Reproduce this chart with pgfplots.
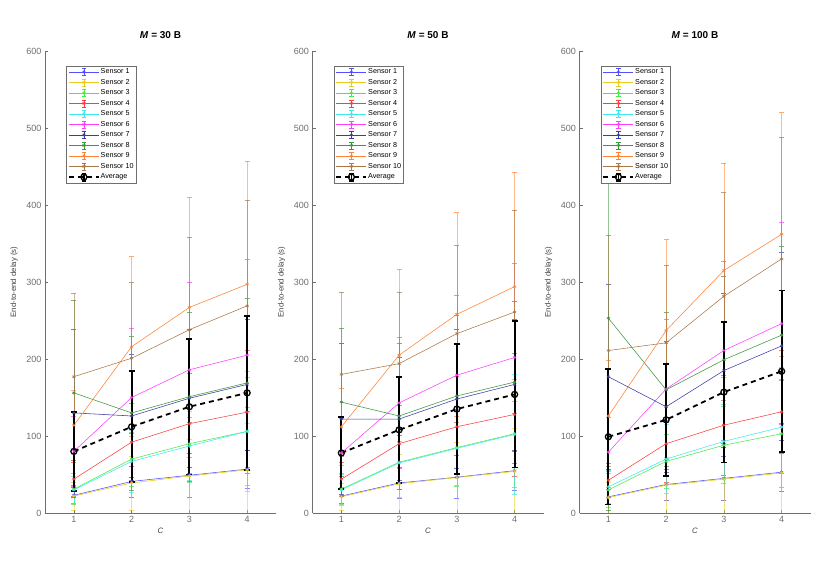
\documentclass[border=0pt]{standalone}
\usepackage{fontspec}
\setmainfont{Liberation Sans}
\usepackage{pgfplots}
\usepackage{pgfplotstable}
\pgfplotsset{compat=1.18}

\definecolor{cS1}{RGB}{80,80,255}
\definecolor{cS2}{RGB}{232,205,30}
\definecolor{cS3}{RGB}{70,235,70}
\definecolor{cS4}{RGB}{255,60,60}
\definecolor{cS5}{RGB}{60,235,235}
\definecolor{cS6}{RGB}{255,60,255}
\definecolor{cS7}{RGB}{60,60,165}
\definecolor{cS8}{RGB}{60,150,60}
\definecolor{cS9}{RGB}{255,130,50}
\definecolor{cS10}{RGB}{170,120,70}
\definecolor{axgray}{RGB}{110,110,110}

% x  s1 e1  s2 e2  s3 e3  s4 e4  s5 e5  s6 e6  s7 e7  s8 e8  s9 e9  s10 e10  a ea
\pgfplotstableread{
x s1 e1 s2 e2 s3 e3 s4 e4 s5 e5 s6 e6 s7 e7 s8 e8 s9 e9 s10 e10 a ea
1 23 10 22 18 31 20 44 22 30 18 80 45 130 109 156 120 114 45 177 108 80 51
2 41 20 39 35 70 35 92 50 67 40 150 90 126 80 130 100 216 117 201 98 112 72
3 49 28 48 48 90 50 116 65 87 45 186 114 149 90 151 110 267 143 238 120 138 88
4 57 25 56 60 106 70 131 80 106 78 205 124 167 85 169 110 297 160 269 137 156 100
}\tabA
\pgfplotstableread{
x s1 e1 s2 e2 s3 e3 s4 e4 s5 e5 s6 e6 s7 e7 s8 e8 s9 e9 s10 e10 a ea
1 22 10 21 18 31 20 44 22 30 20 78 45 122 98 144 96 112 50 180 107 78 47
2 39 20 38 38 66 35 90 50 65 45 143 85 122 80 126 95 205 112 194 93 108 69
3 46.5 28 46 46 85 50 112 65 84 48 179 104 148 90 152 105 258 132 233 115 135 84
4 55 25 54 56 103 70 128 80 102 78 202 122 167 85 170 105 294 149 261 132 154 95
}\tabB
\pgfplotstableread{
x s1 e1 s2 e2 s3 e3 s4 e4 s5 e5 s6 e6 s7 e7 s8 e8 s9 e9 s10 e10 a ea
1 21 10 20 20 30 22 42.5 22 34 22 79 45 177 120 253 250 126 72 211 150 99 88
2 37 20 36 36 67 35 90 50 70 45 161 91 138 85 160 100 237 118 221 101 121 73
3 45 28 44 44 88 50 114 65 93 48 211 116 185 100 199 108 315 139 281.5 134.5 157 91.5
4 53 25 52 52 103 70 131.5 80 111.5 78 246 131 217 122 231 115 362 158 330 158 184 105
}\tabC

\newcommand{\sensor}[4]{%
  \addplot[color=#2, line width=0.55pt, mark=asterisk, mark size=1.8pt,
    error bars/.cd, y dir=both, y explicit,
    error bar style={line width=0.6pt, #2, opacity=0.55},
    error mark options={rotate=90, #2, mark size=2.5pt, line width=0.6pt, opacity=0.7}]
    table[x=x, y=#3, y error=#4] {#1};
}
\newcommand{\allplots}[1]{%
  \sensor{#1}{cS1}{s1}{e1}\addlegendentry{Sensor 1}
  \sensor{#1}{cS2}{s2}{e2}\addlegendentry{Sensor 2}
  \sensor{#1}{cS3}{s3}{e3}\addlegendentry{Sensor 3}
  \sensor{#1}{cS4}{s4}{e4}\addlegendentry{Sensor 4}
  \sensor{#1}{cS5}{s5}{e5}\addlegendentry{Sensor 5}
  \sensor{#1}{cS6}{s6}{e6}\addlegendentry{Sensor 6}
  \sensor{#1}{cS7}{s7}{e7}\addlegendentry{Sensor 7}
  \sensor{#1}{cS8}{s8}{e8}\addlegendentry{Sensor 8}
  \sensor{#1}{cS9}{s9}{e9}\addlegendentry{Sensor 9}
  \sensor{#1}{cS10}{s10}{e10}\addlegendentry{Sensor 10}
  \addplot[color=black, line width=1.8pt, dash pattern=on 5pt off 4pt,
    mark=o, mark size=3pt, mark options={solid, line width=1.3pt},
    error bars/.cd, y dir=both, y explicit,
    error bar style={line width=1.8pt, black, solid},
    error mark options={rotate=90, black, mark size=3pt, line width=1.8pt, solid}]
    table[x=x, y=a, y error=ea] {#1};
  \addlegendentry{Average}
}

\pgfplotsset{
  panel/.style={
    anchor=south west, scale only axis, width=231pt, height=462pt,
    xmin=0.5, xmax=4.5, ymin=0, ymax=600,
    xtick={1,2,3,4}, ytick={0,100,...,600},
    axis x line*=bottom, axis y line*=left,
    axis line style={axgray, line width=0.6pt, -},
    tick style={axgray, line width=0.5pt},
    tick align=inside, major tick length=3pt,
    /pgf/number format/assume math mode=true,
    tick label style={font=\fontsize{9}{10}\selectfont, text=axgray},
    xlabel={\textit{C}}, ylabel={End-to-end delay (s)},
    label style={font=\fontsize{7.8}{9}\selectfont, text=black!75},
    xlabel style={at={(axis description cs:0.5,0)}, anchor=north, yshift=-12pt},
    ylabel style={at={(axis description cs:-0.134,0.5)}, anchor=center},
    title style={font=\bfseries\fontsize{10}{12}\selectfont, at={(axis description cs:0.5,1)}, anchor=south, yshift=3pt},
    legend cell align=left,
    legend image code/.code={
      \draw[mark repeat=2, mark phase=2, ##1] plot coordinates {(0pt,0pt) (15pt,0pt) (30pt,0pt)};
      \draw[##1, mark=none, solid, line cap=butt]
        (15pt,-3.6pt) -- (15pt,3.6pt)
        (12.8pt,-3.6pt) -- (17.2pt,-3.6pt)
        (12.8pt,3.6pt) -- (17.2pt,3.6pt);
    },
    legend style={at={(axis description cs:0.092,0.968)}, anchor=north west,
      font=\fontsize{7.2}{8}\selectfont, draw=axgray, line width=0.5pt, fill=white,
      inner sep=1.5pt, row sep=1.8pt,
      nodes={inner sep=0.9pt, text height=5.3pt, text depth=1.6pt}},
  }
}

\begin{document}
\begin{tikzpicture}
\path[use as bounding box] (0,0) rectangle (817pt,578pt);
\begin{axis}[panel, at={(45pt,65pt)}, title={\textit{M} = 30 B}]
\allplots{\tabA}
\end{axis}
\begin{axis}[panel, at={(312.5pt,65pt)}, title={\textit{M} = 50 B}]
\allplots{\tabB}
\end{axis}
\begin{axis}[panel, at={(579.5pt,65pt)}, title={\textit{M} = 100 B}]
\allplots{\tabC}
\end{axis}
\end{tikzpicture}
\end{document}
